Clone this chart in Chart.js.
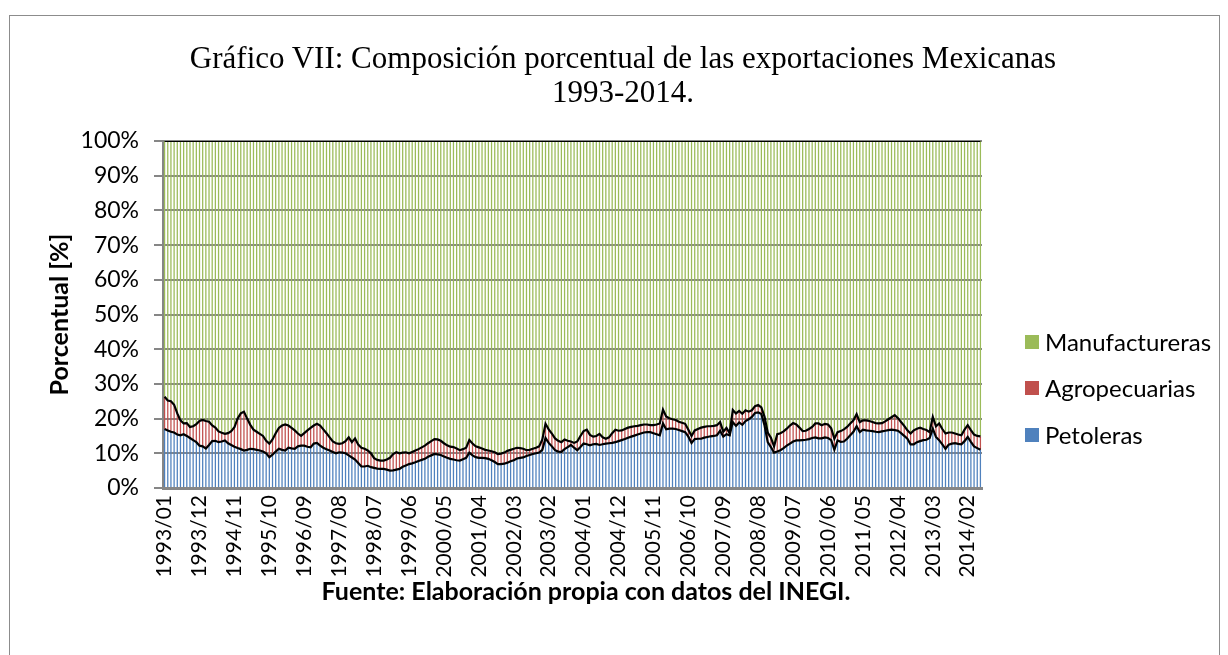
<!DOCTYPE html>
<html>
<head>
<meta charset="utf-8">
<script src="https://cdn.jsdelivr.net/npm/chart.js@4.4.1/dist/chart.umd.min.js"></script>
<style>
html,body{margin:0;padding:0;background:#fff;}
#wrap{position:relative;width:1228px;height:655px;overflow:hidden;background:#fff;}
#frame{position:absolute;left:9px;top:15px;width:1211px;height:660px;border:1px solid #8c8c8c;box-sizing:border-box;}
#c{position:absolute;left:0;top:0;}
#title{position:absolute;left:0;width:1246px;top:41px;text-align:center;font-family:"Liberation Serif","Times New Roman",serif;font-size:31px;line-height:34px;color:#000;}
.leg{position:absolute;left:1025px;height:28px;line-height:28px;display:flex;align-items:center;font-family:Lato,"Open Sans",sans-serif;font-size:24px;color:#000;white-space:nowrap;}
.leg span.sq{display:inline-block;width:14px;height:14px;margin-right:6px;}
#source{position:absolute;left:286px;width:600px;top:574px;height:32px;line-height:32px;text-align:center;font-family:Lato,"Open Sans",sans-serif;font-size:25px;font-weight:bold;color:#000;white-space:nowrap;}
</style>
</head>
<body>
<div id="wrap">
<div id="frame"></div>
<canvas id="c" width="1228" height="655"></canvas>
<div id="title">Gráfico VII: Composición porcentual de las exportaciones Mexicanas<br>1993-2014.</div>
<div class="leg" style="top:328px"><span class="sq" style="background:#9BBB59"></span>Manufactureras</div>
<div class="leg" style="top:374px"><span class="sq" style="background:#C0504D"></span>Agropecuarias</div>
<div class="leg" style="top:421px"><span class="sq" style="background:#4F81BD"></span>Petoleras</div>
<div id="source">Fuente: Elaboración propia con datos del INEGI.</div>
</div>
<script>
// Monthly categories: 1993/01 .. 2014/06
const startYear = 1993;
const nMonths = 258;
const labels = [];
for (let i = 0; i < nMonths; i++) {
  const y = startYear + Math.floor(i / 12);
  const m = (i % 12) + 1;
  labels.push(y + '/' + (m < 10 ? '0' + m : m));
}
const labelEvery = 11;

// Share of exports (%)
const petroleras = [
17.0,16.6,16.2,16.0,15.4,15.2,15.5,15.0,14.4,13.8,
13.2,12.2,12.0,11.4,12.4,13.5,13.6,13.2,13.4,13.7,
12.9,12.4,11.9,11.5,11.2,10.8,11.0,11.3,11.2,11.0,
10.8,10.5,10.0,8.9,9.6,10.5,11.3,11.0,10.8,11.6,
11.4,11.3,12.0,12.2,12.2,11.9,11.7,12.8,13.0,12.2,
11.6,11.2,10.8,10.4,10.0,10.3,10.2,10.0,9.4,8.8,
8.2,7.2,6.2,6.2,6.4,
6.0,5.8,5.6,5.5,5.5,
5.3,5.0,5.1,5.3,5.5,6.1,6.5,6.9,7.1,7.4,
7.8,8.1,8.4,9.0,9.4,9.8,9.7,9.5,9.1,8.7,
8.4,8.2,8.0,7.9,8.3,8.7,10.2,9.4,8.9,8.7,
8.7,8.6,8.4,8.0,7.5,6.9,6.9,7.0,7.3,7.7,
8.0,8.5,8.7,8.8,9.2,9.5,9.8,10.0,10.2,11.0,
14.4,13.0,12.0,10.9,10.5,10.4,11.2,11.8,
12.4,11.6,
10.9,11.8,12.8,12.6,12.3,12.6,12.7,12.4,12.6,12.8,
12.9,13.0,13.2,13.5,13.8,14.1,14.5,14.8,15.1,15.4,
15.7,16.0,16.1,16.1,15.8,15.5,15.2,18.6,16.9,17.1,
17.1,17.0,16.7,16.4,16.1,14.8,13.0,14.1,14.2,14.2,
14.5,14.7,14.9,15.0,15.2,16.5,14.8,15.5,15.2,19.0,
17.9,18.9,18.2,19.3,19.8,20.5,21.6,21.8,21.3,18.0,
13.2,11.8,10.2,10.5,
10.9,11.5,12.2,12.8,13.4,13.7,
13.7,13.8,13.9,14.1,14.4,14.6,14.3,14.3,14.6,14.4,
13.8,11.0,13.7,13.3,13.4,14.2,15.2,16.2,17.8,16.1,
16.8,16.6,16.5,16.4,16.2,16.1,16.3,16.5,16.7,16.8,
16.7,16.5,15.8,15.0,14.2,12.6,12.6,13.2,13.5,13.8,
13.9,14.4,17.1,14.7,13.8,12.6,11.3,12.5,12.8,12.9,
12.7,12.6,13.5,14.7,13.3,12.0,11.5,11.0
];
const agropecuarias = [
9.3,8.6,8.8,8.0,6.1,4.3,3.1,3.7,3.2,4.0,
5.2,7.1,7.6,7.9,6.7,4.5,3.8,3.1,2.5,1.9,
2.9,4.0,5.6,8.5,10.3,11.2,9.0,6.9,5.6,5.2,
4.8,4.5,3.6,3.9,4.4,5.3,6.0,7.0,7.5,6.4,
5.9,5.3,3.7,2.8,3.6,4.7,5.6,5.2,5.5,5.8,
5.3,4.6,3.8,3.0,2.9,2.4,2.7,3.5,5.2,4.4,
6.1,5.3,5.4,5.1,4.4,
4.0,2.8,2.5,2.4,2.4,
2.9,3.7,4.7,5.0,4.5,4.1,3.8,3.1,3.3,3.4,
3.4,3.6,3.8,3.9,4.1,4.3,4.3,4.1,3.8,3.6,
3.5,3.6,3.4,3.0,2.9,2.9,3.6,3.4,3.1,3.0,
2.7,2.4,2.4,2.6,2.8,2.9,3.0,3.2,3.4,3.3,
3.3,3.1,2.8,2.5,1.7,1.5,1.5,1.6,1.8,3.0,
4.1,3.9,3.7,3.4,3.1,2.8,2.8,1.8,
1.0,1.4,
2.5,3.2,3.6,4.2,3.0,2.2,2.3,3.2,2.0,1.4,
1.7,2.8,3.6,3.0,2.8,2.9,2.9,2.8,2.7,2.5,
2.4,2.3,2.2,2.0,2.3,2.8,3.4,4.0,3.7,3.0,
2.7,2.6,2.4,2.4,2.4,2.0,2.0,2.5,2.8,3.2,
3.1,3.1,2.9,2.9,2.9,2.5,1.4,1.8,0.6,3.5,
3.6,3.3,3.2,3.1,2.2,1.9,2.0,2.1,1.9,2.5,
2.8,2.7,1.8,5.0,
4.9,4.8,4.9,5.2,5.3,4.6,
3.7,2.6,2.6,2.9,3.2,4.0,4.3,3.8,3.9,3.9,
3.4,3.2,2.4,3.1,3.5,3.4,3.4,3.3,3.5,2.9,
2.7,2.9,2.8,2.6,2.5,2.5,2.4,2.7,3.1,3.6,
4.3,3.7,3.2,2.9,2.4,3.1,4.0,3.9,3.9,3.2,
2.8,1.7,3.4,3.1,4.8,4.4,4.4,3.5,3.2,2.8,
2.7,2.6,3.3,3.4,3.4,3.4,3.5,3.9
];
// Manufactureras = remainder of the 100% composition
const manufactureras = petroleras.map((p, i) => +(100 - p - agropecuarias[i]).toFixed(1));

// Series lines (cumulative tops of each stacked series)
const topPet = petroleras.slice();
const topAgro = petroleras.map((p, i) => +(p + agropecuarias[i]).toFixed(1));
const topManuf = petroleras.map((p, i) => +(p + agropecuarias[i] + manufactureras[i]).toFixed(1));

const fam = 'Lato, "Open Sans", sans-serif';
const barCommon = {stack: 'bars', order: 1, barPercentage: 0.4, categoryPercentage: 1.0, borderWidth: 0};
const lineCommon = {type: 'line', borderColor: '#000000', borderWidth: 2.2, pointRadius: 0, tension: 0, fill: false, order: 0};

new Chart(document.getElementById('c'), {
  type: 'bar',
  data: {
    labels: labels,
    datasets: [
      Object.assign({label: 'Petoleras', data: petroleras, backgroundColor: '#4F81BD'}, barCommon),
      Object.assign({label: 'Agropecuarias', data: agropecuarias, backgroundColor: '#C0504D'}, barCommon),
      Object.assign({label: 'Manufactureras', data: manufactureras, backgroundColor: '#9BBB59'}, barCommon),
      Object.assign({label: 'l1', data: topPet, stack: 'l1'}, lineCommon),
      Object.assign({label: 'l2', data: topAgro, stack: 'l2'}, lineCommon),
      Object.assign({label: 'l3', data: topManuf, stack: 'l3'}, lineCommon)
    ]
  },
  options: {
    responsive: false,
    animation: false,
    devicePixelRatio: 1,
    layout: {padding: {left: 0, right: 246, top: 141, bottom: 40}},
    plugins: {legend: {display: false}, tooltip: {enabled: false}, title: {display: false}},
    scales: {
      x: {
        stacked: true,
        grid: {display: false, drawTicks: false},
        border: {display: true, color: '#868686', width: 3},
        ticks: {
          autoSkip: false, maxRotation: 90, minRotation: 90, padding: 7,
          color: '#000', font: {family: fam, size: 21},
          callback: function(v, i) { return i % labelEvery === 0 ? labels[i] : ''; }
        },
        afterFit: function(s) { s.height = 127; }
      },
      y: {
        stacked: true, min: 0, max: 100, z: 1,
        ticks: {stepSize: 10, padding: 15, color: '#000', font: {family: fam, size: 23}, callback: v => v + '%'},
        grid: {color: '#868686', lineWidth: 2, tickLength: 9},
        border: {color: '#868686', width: 3},
        title: {display: true, text: 'Porcentual [%]', color: '#000',
                font: {family: fam, size: 25, weight: 'bold'}, padding: {top: 45, bottom: 0}},
        afterFit: function(s) { s.width = 163; }
      }
    }
  }
});
</script>
</body>
</html>
